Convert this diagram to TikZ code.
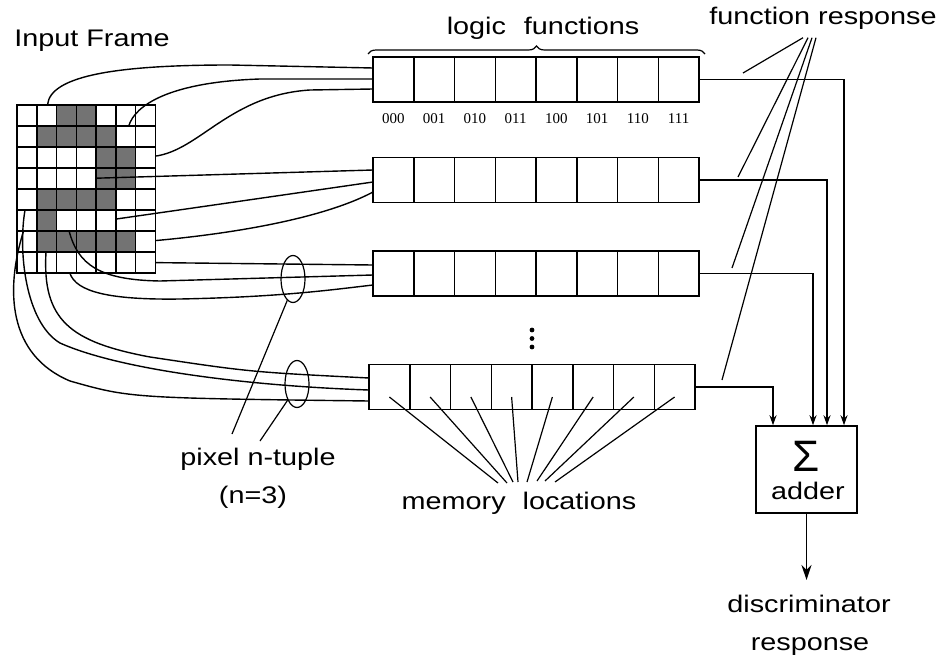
\documentclass[tikz,border=0pt]{standalone}
\usepackage{fontspec}
\setmainfont{Liberation Sans}[FakeStretch=1.2]
\newfontfamily\binfont{Liberation Serif}
\newfontfamily\sigfont{Liberation Sans}
\usetikzlibrary{arrows.meta,shapes.geometric,decorations.pathreplacing}
\begin{document}
\begin{tikzpicture}[x=1pt, y=-1pt, line width=1.5pt,
  pix/.style = {draw, minimum width=19.75pt, minimum height=21pt,
    inner sep=0pt, outer sep=0pt},
  mem/.style = {draw, minimum width=40.75pt, minimum height=45pt,
    inner sep=0pt, outer sep=0pt},
  tuple/.style = {draw, ellipse, minimum width=24pt, minimum height=47pt,
    inner sep=0pt, line width=1.2pt},
  lbl/.style = {anchor=base, inner sep=0pt,
    font=\fontsize{24}{28}\selectfont},
  bin/.style = {anchor=base, inner sep=0pt,
    font=\binfont\fontsize{15}{18}\selectfont},
  arr/.style = {-{Stealth[length=10pt,width=7pt]}},
  wire/.style = {line width=1.4pt},
  pointer/.style = {line width=1.2pt}]
  \useasboundingbox (0,0) rectangle (941,658);
  \foreach \c/\r in {2/0,3/0,1/1,2/1,3/1,4/1,4/2,5/2,4/3,5/3,
      1/4,2/4,3/4,4/4,1/5,1/6,2/6,3/6,4/6,5/6}
    \fill[black!55] ({17+19.75*\c},{105+21*\r}) rectangle +(19.75,21);
  \foreach \c in {0,...,6}
    \foreach \r in {0,...,7}
      \node[pix] (p\c\r) at ({17+19.75*(\c+.5)},{105+21*(\r+.5)}) {};
  \foreach \i/\x/\y in {1/373/79.5,2/373/180,3/373/273.5,4/369/387}
    \foreach \j in {0,...,7}
      \node[mem] (m\i\j) at ({\x+40.75*(\j+.5)},\y) {};
  \foreach \j/\b in {0/000,1/001,2/010,3/011,4/100,5/101,6/110,7/111}
    \node[bin] (b\j) at ({373+40.75*(\j+.5)},123) {\b};
  \draw[line width=1.2pt, decorate, decoration={brace, amplitude=8pt}]
    (368,54) -- (705,54);
  \node[lbl] (frame) at (92,47) {Input Frame};
  \node[lbl] (logic) at (543,35) {logic\hspace{18pt}functions};
  \node[lbl] (fresp) at (823,25) {function response};
  \node[lbl] (ntuple) at (258,465) {pixel n-tuple};
  \node[lbl] (nval) at (253,503) {(n=3)};
  \node[lbl] (memloc) at (519,509) {memory\hspace{17pt}locations};
  \node[draw, minimum width=101pt, minimum height=87pt, inner sep=0pt]
    (adder) at (806.5,469.5) {};
  \node[anchor=base, inner sep=0pt, font=\sigfont\fontsize{44}{44}\selectfont]
    (sigma) at (806,471) {Σ};
  \node[lbl] (addtxt) at (808,499) {adder};
  \node[lbl] (disc) at (809,612) {discriminator};
  \node[lbl] (resp) at (810,650) {response};
  \foreach \y in {330,338.5,347}
    \fill (532,\y) circle[radius=2.4pt];
  \node[tuple] (t3) at (293,279) {};
  \node[tuple] (t4) at (297,384) {};
  \coordinate (in1a) at (373,68);
  \coordinate (in1b) at (373,79);
  \coordinate (in1c) at (373,89);
  \coordinate (in2a) at (373,170);
  \coordinate (in2b) at (373,182);
  \coordinate (in2c) at (373,192);
  \coordinate (in3a) at (373,265);
  \coordinate (in3b) at (373,275);
  \coordinate (in3c) at (373,285);
  \coordinate (in4a) at (369,378);
  \coordinate (in4b) at (369,390);
  \coordinate (in4c) at (369,401);
  \draw[wire] (p10) .. controls (50,75) and (120,65) .. (230,65) -- (in1a);
  \draw[wire] (p51) .. controls (135,105) and (170,82) .. (260,79) -- (in1b);
  \draw[wire] (p62) .. controls (200,150) and (230,95) .. (310,90) -- (in1c);
  \draw[wire] (p33) -- (in2a);
  \draw[wire] (p45) .. controls (200,207) .. (in2b);
  \draw[wire] (p66) .. controls (250,232) and (330,215) .. (in2c);
  \draw[wire] (p67) -- (in3a);
  \draw[wire] (p25) .. controls (78,265) and (100,280) .. (160,281) -- (in3b);
  \draw[wire] (p27) .. controls (76,292) and (110,300) .. (180,299)
    .. controls (280,297) and (330,290) .. (in3c);
  \draw[wire] (p16) .. controls (42,320) and (70,342) .. (150,357)
    .. controls (250,372) .. (in4a);
  \draw[wire] (p04) .. controls (18,250) and (25,322) .. (60,343)
    .. controls (120,370) and (250,386) .. (in4b);
  \draw[wire] (p05) .. controls (5,290) and (8,355) .. (70,381)
    .. controls (130,398) .. (in4c);
  \draw[arr] (m17.east) -| ([xshift=37.5]adder.north);
  \draw[arr] (m27.east) -| ([xshift=20.5]adder.north);
  \draw[arr] (m37.east) -| ([xshift=6.5]adder.north);
  \draw[arr] (m47.east) -| ([xshift=-33.5]adder.north);
  \coordinate (out) at (806.5,580);
  \draw[-{Stealth[length=15pt,width=10pt]}] (adder.south) -- (out);
  \coordinate (fr1) at (743,73);
  \coordinate (fr2) at (738,177);
  \coordinate (fr3) at (732,268);
  \coordinate (fr4) at (722,380);
  \foreach \i/\dx in {1/-20,2/-15,3/-11,4/-7}
    \draw[pointer] ([xshift=\dx,yshift=-7]fresp.south) -- (fr\i);
  \foreach \j/\ex/\ey in {0/498/483,1/507/483,2/513/482,3/518/482,
      4/527/482,5/537/481,6/545/481,7/555/482} {
    \coordinate (ml\j) at (\ex,\ey);
    \draw[pointer] ([yshift=-10]m4\j.center) -- (ml\j);
  }
  \coordinate (pt3) at (232,434);
  \coordinate (pt4) at (260,441);
  \draw[pointer] (t3.-105) -- (pt3);
  \draw[pointer] (t4.-120) -- (pt4);
\end{tikzpicture}
\end{document}
